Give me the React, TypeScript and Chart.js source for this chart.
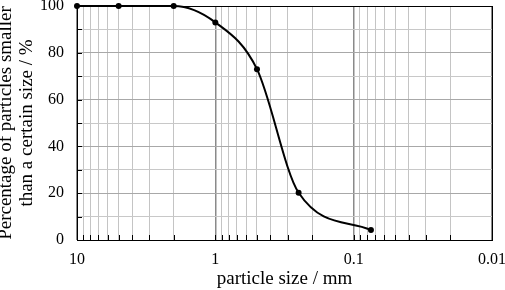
import React, { useEffect, useRef } from "react";
import { Chart, registerables } from "chart.js";

Chart.register(...registerables);

const particleSizes = [10, 5, 2, 1, 0.5, 0.25, 0.075];
const percentPassing = [100, 100, 100, 93, 73, 20.2, 4.3];
const xTickDecades = [0.01, 0.1, 1];
const xMax = 10;
const yTitleLines = ["Percentage of particles smaller", "than a certain size / %"];
const xTitle = "particle size / mm";

const FONT = '"Liberation Serif", "Times New Roman", serif';

const isDecade = (v: number) => Math.abs(Math.log10(v) - Math.round(Math.log10(v))) < 1e-9;

const frameAndTicks = {
  id: "frameAndTicks",
  beforeDatasetsDraw(chart: any) {
    const { ctx, chartArea } = chart;
    const xs = chart.scales.x;
    const ys = chart.scales.y;
    ctx.save();
    ctx.strokeStyle = "#000";
    ctx.lineWidth = 1;
    ctx.beginPath();
    for (const t of xs.ticks) {
      const px = Math.round(xs.getPixelForValue(t.value)) + 0.5;
      ctx.moveTo(px, chartArea.bottom);
      ctx.lineTo(px, chartArea.bottom - 5);
    }
    for (const t of ys.ticks) {
      const py = Math.round(ys.getPixelForValue(t.value)) + 0.5;
      ctx.moveTo(chartArea.left, py);
      ctx.lineTo(chartArea.left + 5, py);
    }
    ctx.stroke();
    ctx.strokeRect(
      Math.round(chartArea.left) + 0.5,
      Math.round(chartArea.top) + 0.5,
      Math.round(chartArea.right - chartArea.left),
      Math.round(chartArea.bottom - chartArea.top)
    );
    ctx.restore();
  },
};

export default function App() {
  const ref = useRef<HTMLCanvasElement | null>(null);
  useEffect(() => {
    if (!ref.current) return;
    const chart = new Chart(ref.current, {
      type: "line",
      data: {
        datasets: [
          {
            data: particleSizes.map((s, i) => ({ x: s, y: percentPassing[i] })),
            borderColor: "#000",
            backgroundColor: "#000",
            borderWidth: 2,
            pointRadius: 3,
            pointBackgroundColor: "#000",
            pointBorderWidth: 0,
            cubicInterpolationMode: "monotone",
            clip: false as any,
          },
        ],
      },
      plugins: [frameAndTicks],
      options: {
        animation: false,
        responsive: false,
        layout: { padding: { top: 6, right: 13, left: 0, bottom: 0 } },
        plugins: { legend: { display: false }, tooltip: { enabled: false } },
        scales: {
          x: {
            type: "logarithmic",
            reverse: true,
            min: 0.01,
            max: xMax,
            afterBuildTicks: (scale: any) => {
              const vals: number[] = [];
              for (const d of xTickDecades) for (let k = 1; k <= 9; k++) vals.push(parseFloat((d * k).toPrecision(6)));
              vals.push(xMax);
              scale.ticks = vals.map((v) => ({ value: v, major: isDecade(v) }));
            },
            afterFit: (scale: any) => {
              scale.height = 50;
              scale.paddingLeft = 0;
              scale.paddingRight = 0;
            },
            ticks: {
              autoSkip: false,
              maxRotation: 0,
              minRotation: 0,
              padding: 10,
              color: "#000",
              font: { family: FONT, size: 16 },
              callback: (v: any) => (isDecade(Number(v)) ? String(Number(v)) : ""),
            },
            grid: {
              drawTicks: false,
              color: (c: any) => (c.tick && isDecade(c.tick.value) ? "#8a8a8a" : "#c4c4c4"),
              lineWidth: (c: any) => (c.tick && isDecade(c.tick.value) ? 1.5 : 1),
            },
            border: { display: true, color: "#000" },
            title: {
              display: true,
              text: xTitle,
              color: "#000",
              font: { family: FONT, size: 19 },
              padding: { top: 0, bottom: 0 },
            },
          },
          y: {
            type: "linear",
            min: 0,
            max: 100,
            afterFit: (scale: any) => {
              scale.width = 77;
              scale.paddingTop = 0;
              scale.paddingBottom = 0;
            },
            ticks: {
              stepSize: 10,
              padding: 13,
              color: "#000",
              font: { family: FONT, size: 16 },
              callback: (v: any) => (Number(v) % 20 === 0 ? String(v) : ""),
            },
            grid: {
              drawTicks: false,
              color: (c: any) => (c.tick && c.tick.value % 20 === 0 ? "#a8a8a8" : "#c8c8c8"),
              lineWidth: 1,
            },
            border: { display: true, color: "#000" },
            title: {
              display: true,
              text: yTitleLines,
              color: "#000",
              font: { family: FONT, size: 19, lineHeight: "21px" as any },
              padding: { top: -4.5, bottom: 0 },
            },
          },
        },
      },
    });
    return () => chart.destroy();
  }, []);
  return (
    <div style={{ position: "fixed", left: 0, top: 0, width: 505, height: 290, background: "#fff" }}>
      <canvas ref={ref} width={505} height={290} style={{ display: "block" }} />
    </div>
  );
}
